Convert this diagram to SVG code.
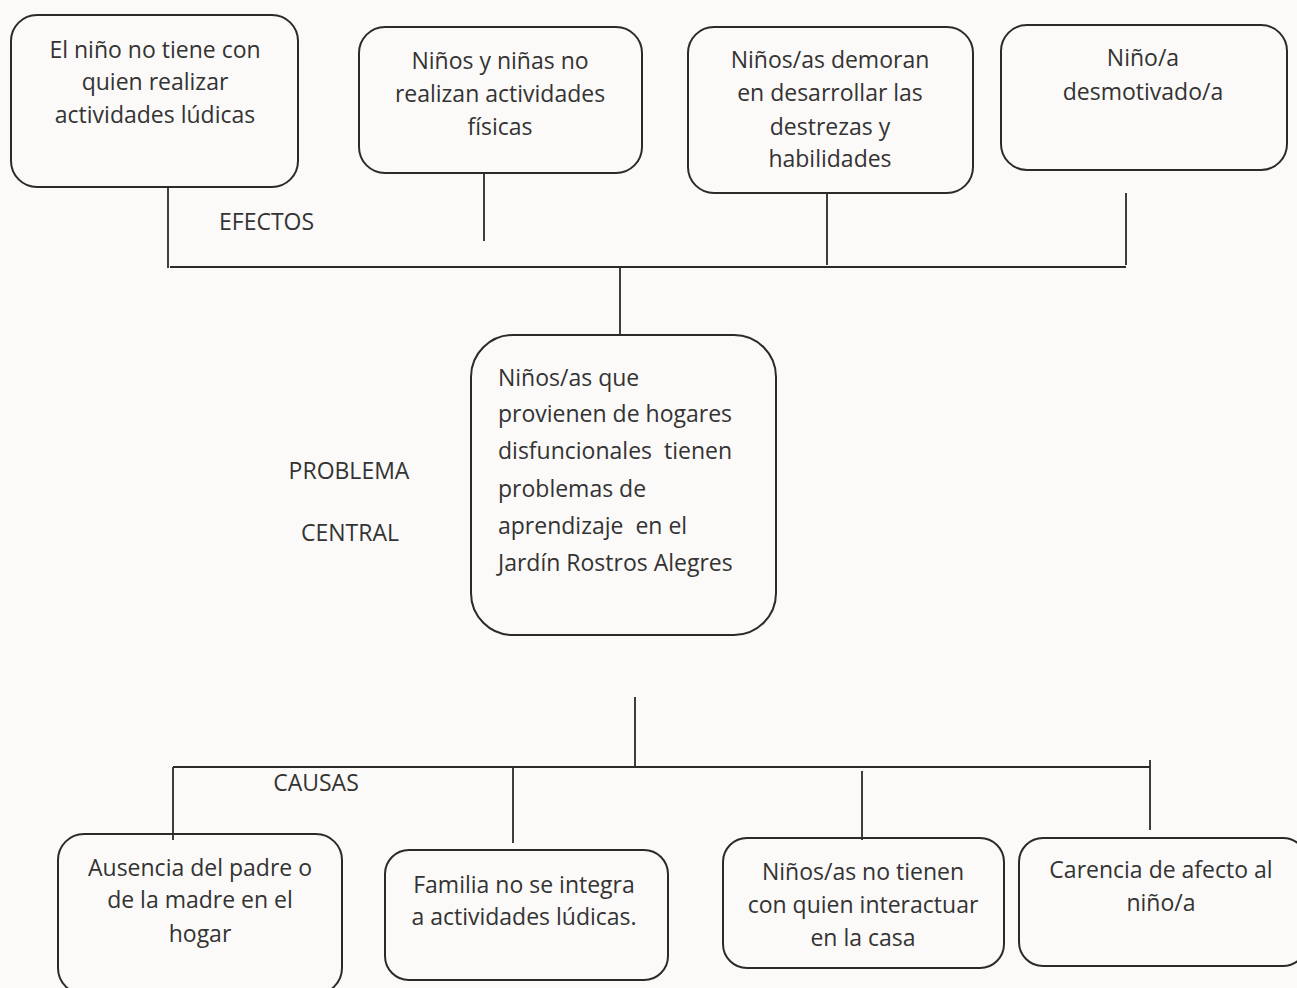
<svg xmlns="http://www.w3.org/2000/svg" width="1297" height="988" viewBox="0 0 1297 988">
<style>
.bg{fill:#fbfaf8}
.box{fill:none;stroke:#2a2a2a;stroke-width:2}
.ln{fill:none;stroke:#2a2a2a;stroke-width:1.8}
text{font-family:"Open Sans","Liberation Sans",sans-serif;font-size:23px;fill:#333;white-space:pre}
.c{text-anchor:middle}
</style>
<rect class="bg" x="0" y="0" width="1297" height="988"/>
<g id="connectors">
<path class="ln" d="M168 187V268M484 173V241M827 193V265M1126 193V265M170 267H1126M620 266V334"/>
<path class="ln" d="M635 697V767M173 767H1150M173 767V840M513 767V843M862 771V840M1150 760V830"/>
</g>
<g id="e1"><rect class="box" x="11" y="15" width="287" height="172" rx="26"/>
<text class="c" x="155" y="58">El niño no tiene con</text><text class="c" x="155" y="90">quien realizar</text><text class="c" x="155" y="123">actividades lúdicas</text></g>
<g id="e2"><rect class="box" x="359" y="27" width="283" height="146" rx="26"/>
<text class="c" x="500" y="69">Niños y niñas no</text><text class="c" x="500" y="102">realizan actividades</text><text class="c" x="500" y="135">físicas</text></g>
<g id="e3"><rect class="box" x="688" y="27" width="285" height="166" rx="26"/>
<text class="c" x="830" y="68">Niños/as demoran</text><text class="c" x="830" y="101">en desarrollar las</text><text class="c" x="830" y="135">destrezas y</text><text class="c" x="830" y="167">habilidades</text></g>
<g id="e4"><rect class="box" x="1001" y="25" width="286" height="145" rx="26"/>
<text class="c" x="1143" y="66">Niño/a</text><text class="c" x="1143" y="100">desmotivado/a</text></g>
<text x="219" y="230">EFECTOS</text>
<g id="central"><rect class="box" x="471" y="335" width="305" height="300" rx="42"/>
<text x="498" y="386">Niños/as que</text><text x="498" y="422">provienen de hogares</text><text x="498" y="459">disfuncionales  tienen</text><text x="498" y="497">problemas de</text><text x="498" y="534">aprendizaje  en el</text><text x="498" y="571">Jardín Rostros Alegres</text></g>
<text class="c" x="349" y="479">PROBLEMA</text>
<text class="c" x="350" y="541">CENTRAL</text>
<text class="c" x="316" y="791">CAUSAS</text>
<g id="c1"><rect class="box" x="58" y="834" width="284" height="160" rx="26"/>
<text class="c" x="200" y="876">Ausencia del padre o</text><text class="c" x="200" y="908">de la madre en el</text><text class="c" x="200" y="942">hogar</text></g>
<g id="c2"><rect class="box" x="385" y="850" width="283" height="130" rx="24"/>
<text class="c" x="524" y="893">Familia no se integra</text><text class="c" x="524" y="925">a actividades lúdicas.</text></g>
<g id="c3"><rect class="box" x="723" y="838" width="281" height="130" rx="24"/>
<text class="c" x="863" y="880">Niños/as no tienen</text><text class="c" x="863" y="913">con quien interactuar</text><text class="c" x="863" y="946">en la casa</text></g>
<g id="c4"><rect class="box" x="1019" y="838" width="288" height="128" rx="24"/>
<text class="c" x="1161" y="878">Carencia de afecto al</text><text class="c" x="1161" y="911">niño/a</text></g>
</svg>
